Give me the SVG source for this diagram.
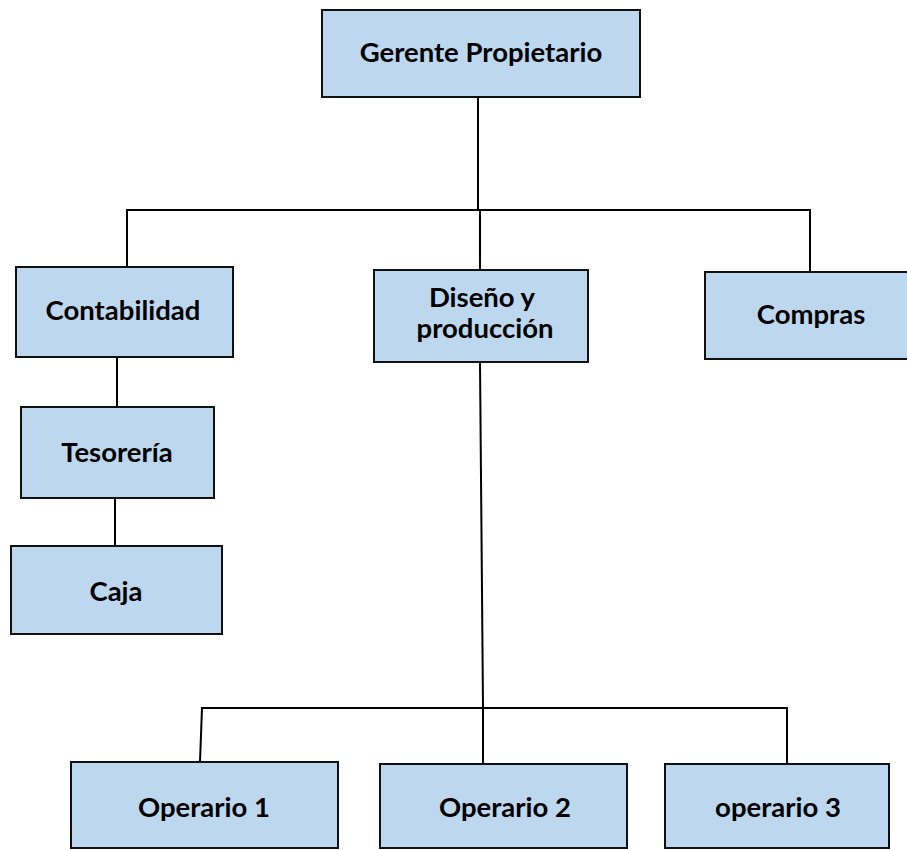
<svg xmlns="http://www.w3.org/2000/svg" width="907" height="850" viewBox="0 0 907 850">
  <style>
    .box { fill: #BDD7EE; stroke: #111; stroke-width: 2; }
    .lbl { font-family: Lato, "Open Sans", "Liberation Sans", sans-serif; font-weight: bold; font-size: 27.5px; fill: #000; text-anchor: middle; }
    .wire { fill: none; stroke: #000; stroke-width: 2; }
  </style>
  <rect width="907" height="850" fill="#fff"/>

  <!-- connectors -->
  <g id="connectors">
    <path class="wire" d="M478 97 V210"/>
    <path class="wire" d="M127 267 V210 H810 V272"/>
    <path class="wire" d="M480 210 V270"/>
    <path class="wire" d="M117 357 V407"/>
    <path class="wire" d="M115 498 V546"/>
    <path class="wire" d="M480 362 L483 707"/>
    <path class="wire" d="M200 762 L202 708 H787 V764"/>
    <path class="wire" d="M483 708 V764"/>
  </g>

  <g id="gerente">
    <rect class="box" x="322" y="10" width="318" height="87"/>
    <text class="lbl" x="481" y="62">Gerente Propietario</text>
  </g>
  <g id="contabilidad">
    <rect class="box" x="16" y="267" width="217" height="90"/>
    <text class="lbl" x="123" y="320">Contabilidad</text>
  </g>
  <g id="diseno">
    <rect class="box" x="374" y="270" width="214" height="92"/>
    <text class="lbl" x="482" y="307">Diseño y</text>
    <text class="lbl" x="485" y="338">producción</text>
  </g>
  <g id="compras">
    <rect class="box" x="705" y="272" width="210" height="87"/>
    <text class="lbl" x="811" y="324">Compras</text>
  </g>
  <g id="tesoreria">
    <rect class="box" x="21" y="407" width="193" height="91"/>
    <text class="lbl" x="117" y="462">Tesorería</text>
  </g>
  <g id="caja">
    <rect class="box" x="11" y="546" width="211" height="88"/>
    <text class="lbl" x="116" y="601">Caja</text>
  </g>
  <g id="operario1">
    <rect class="box" x="71" y="762" width="267" height="86"/>
    <text class="lbl" x="204" y="817">Operario 1</text>
  </g>
  <g id="operario2">
    <rect class="box" x="380" y="764" width="247" height="84"/>
    <text class="lbl" x="505" y="817">Operario 2</text>
  </g>
  <g id="operario3">
    <rect class="box" x="665" y="764" width="224" height="84"/>
    <text class="lbl" x="778" y="817">operario 3</text>
  </g>
</svg>
